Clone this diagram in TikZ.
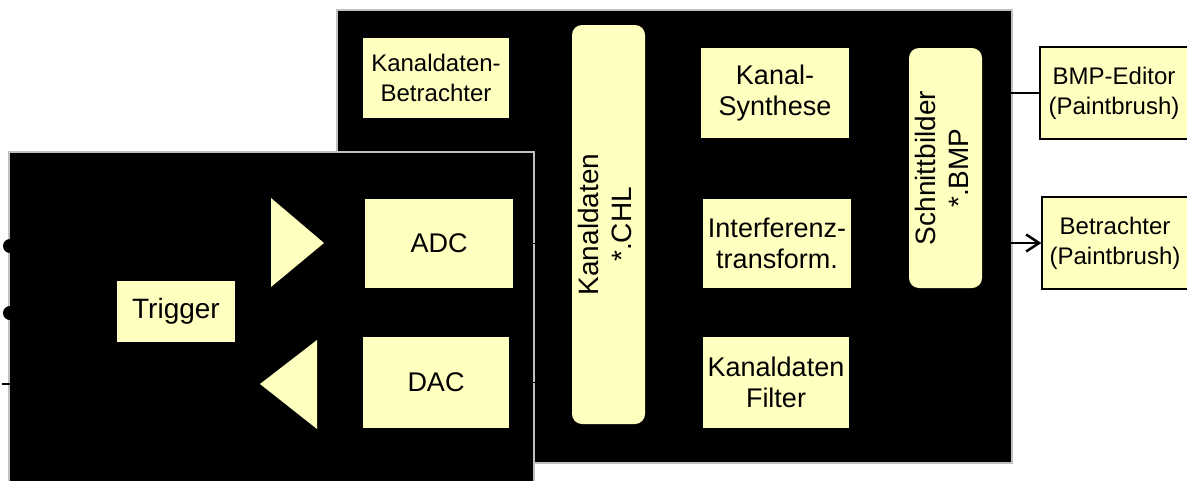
\documentclass[tikz,border=0pt]{standalone}
\usepackage{fontspec}
\setmainfont{Liberation Sans}
\usetikzlibrary{arrows.meta}
\definecolor{gelb}{RGB}{255,255,192}
\definecolor{rahmen}{RGB}{192,192,192}

\begin{document}
\begin{tikzpicture}[x=1pt, y=-1pt, line width=1.2pt,
    block/.style = {fill=gelb, inner sep=0pt, align=center,
                    font=\fontsize{27}{31}\selectfont},
    speicher/.style = {block, rounded corners=10pt,
                       font=\fontsize{28}{33}\selectfont},
    extern/.style = {block, draw=black, font=\fontsize{24}{30}\selectfont},
    platte/.style = {fill=black, draw=rahmen, line width=2pt},
    pfeil/.style = {-{Straight Barb[length=13pt,width=17pt,line width=2.5pt]}}
  ]
    \useasboundingbox (0,0) rectangle (1187,480);

    % Rechner (hinten) und Messkarte (vorne)
    \draw[platte] (337,10) rectangle (1012,463);
    \draw[platte] (9,152) rectangle (534,495);

    % Software
    \node[block, minimum width=146pt, minimum height=80pt,
          font=\fontsize{24}{30}\selectfont] (kbetr) at (436,78)
      {Kanaldaten-\\Betrachter};
    \node[speicher, minimum width=73pt, minimum height=399pt] (chl) at (608.5,224.5)
      {\rotatebox{90}{\begin{tabular}{@{}c@{}}Kanaldaten\\{}*.CHL\end{tabular}}};
    \node[block, minimum width=148pt, minimum height=90pt] (synth) at (775,93)
      {Kanal-\\Synthese};
    \node[block, minimum width=148pt, minimum height=89pt] (itrans) at (777,243.5)
      {Interferenz-\\transform.};
    \node[block, minimum width=146pt, minimum height=91pt] (filter) at (776,382.5)
      {Kanaldaten\\Filter};
    \node[speicher, minimum width=73pt, minimum height=240pt] (bmp) at (945.5,168)
      {\rotatebox{90}{\begin{tabular}{@{}c@{}}Schnittbilder\\{}*.BMP\end{tabular}}};

    % externe Programme
    \node[extern, minimum width=148pt, minimum height=92pt] (editor) at (1114,93)
      {BMP-Editor\\(Paintbrush)};
    \node[extern, minimum width=146pt, minimum height=92pt] (betr) at (1115,243)
      {Betrachter\\(Paintbrush)};

    % Messkarte
    \node[block, minimum width=148pt, minimum height=89pt] (adc) at (439,243.5) {ADC};
    \node[block, minimum width=146pt, minimum height=91pt] (dac) at (436,382.5) {DAC};
    \node[block, minimum width=118pt, minimum height=61pt,
          font=\fontsize{28}{33}\selectfont] (trigger) at (176,311.5) {Trigger};
    \fill[gelb] (271,198) -- (324,243) coordinate (verst) -- (271,287) -- cycle;
    \fill[gelb] (317,340) -- (260,384) coordinate (treiber) -- (317,429) -- cycle;
    \fill (10,246) circle (7pt) coordinate (ein1);
    \fill (10,313) circle (7pt) coordinate (ein2);
    \coordinate (aus) at (2,384);

    % Verbindungen
    \draw (adc.east) -- (chl.west |- adc.east);
    \draw (chl.west |- dac.east) -- (dac.east);
    \draw (chl.east |- 0,368) -- (filter.west |- 0,368);
    \draw (chl.east |- 0,396) -- (filter.west |- 0,396);
    \draw (treiber) -- (aus);
    \draw (bmp.east |- editor.west) -- (editor.west);
    \draw[pfeil] (bmp.east |- betr.west) -- (betr.west);
  \end{tikzpicture}
\end{document}
